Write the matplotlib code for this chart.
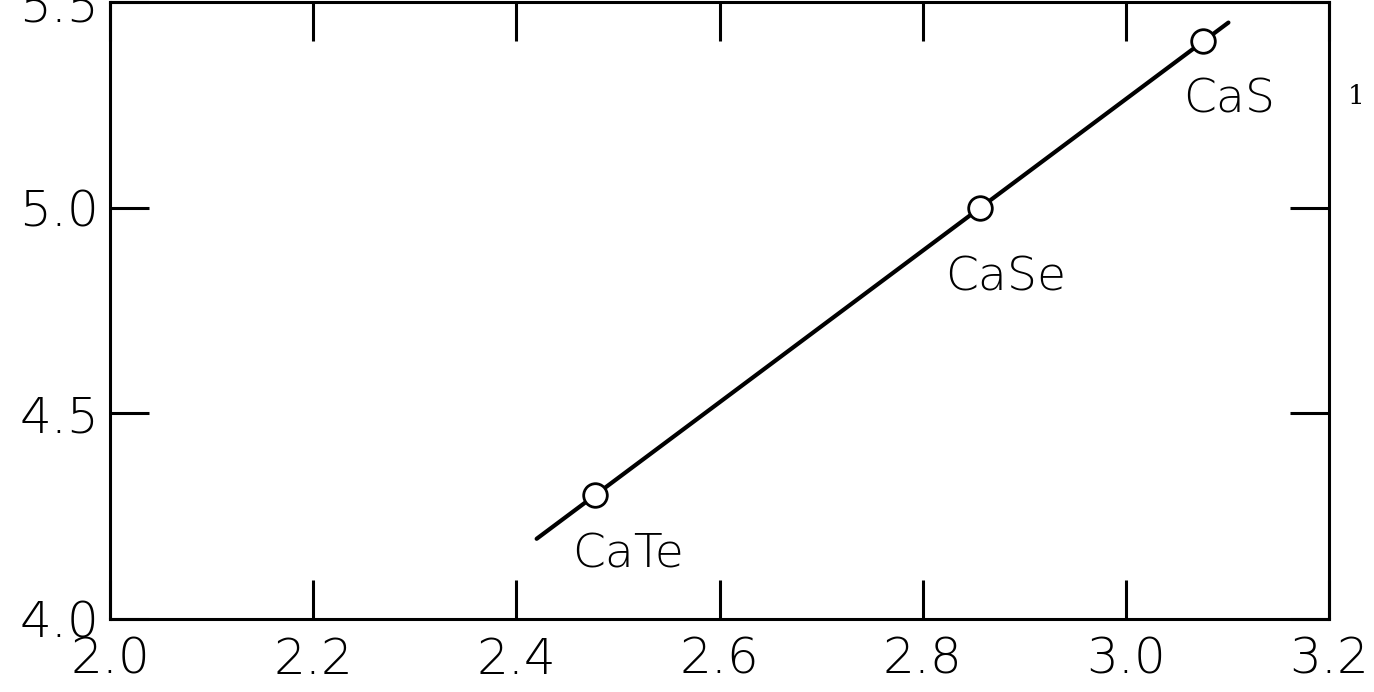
import matplotlib
matplotlib.use("Agg")
import matplotlib.pyplot as plt

# Data
compounds = ["CaTe", "CaSe", "CaS"]
x_vals = [2.477, 2.856, 3.076]
y_vals = [4.302, 5.000, 5.404]

# fitted straight line, drawn end to end
line_x = [2.420, 3.101]
line_y = [4.195, 5.450]

x_ticks = [2.0, 2.2, 2.4, 2.6, 2.8, 3.0, 3.2]
y_ticks = [4.0, 4.5, 5.0, 5.5]

# label offsets (points) from each data point
label_dx = [24, 19, 19]
label_dy = [-43, -50, -42]

plt.rcParams['font.family'] = ['DejaVu Sans']

fig = plt.figure(figsize=(13.74, 6.92), dpi=100)
ax = fig.add_axes([110/1374, 73/692, 1219/1374, 617/692])

ax.plot(line_x, line_y, color='black', lw=3, solid_capstyle='round', zorder=2)
ax.plot(x_vals, y_vals, 'o', ms=17, mfc='white', mec='black', mew=2, zorder=3)

for name, x, y, dx, dy in zip(compounds, x_vals, y_vals, label_dx, label_dy):
    ax.annotate(name, (x, y), xytext=(dx, dy), textcoords='offset points',
                ha='center', va='center', fontsize=34, fontweight='light')

ax.set_xlim(2.0, 3.2)
ax.set_ylim(4.0, 5.5)
ax.set_xticks(x_ticks)
ax.set_yticks(y_ticks)
ax.set_xticklabels([f"{v:.1f}" for v in x_ticks])
ax.set_yticklabels([f"{v:.1f}" for v in y_ticks])
ax.tick_params(direction='in', length=28, width=2.2, labelsize=36,
               top=True, right=True)
ax.tick_params(axis='x', pad=12)
ax.tick_params(axis='y', pad=8)
for lab in ax.get_xticklabels() + ax.get_yticklabels():
    lab.set_fontweight('light')
for side in ax.spines.values():
    side.set_linewidth(2.2)

# page number at the right margin
fig.text(1356/1374, 1 - 97/692, "1", family='DejaVu Serif', fontsize=19,
         ha='center', va='center')

fig.savefig("out.png", dpi=100)
